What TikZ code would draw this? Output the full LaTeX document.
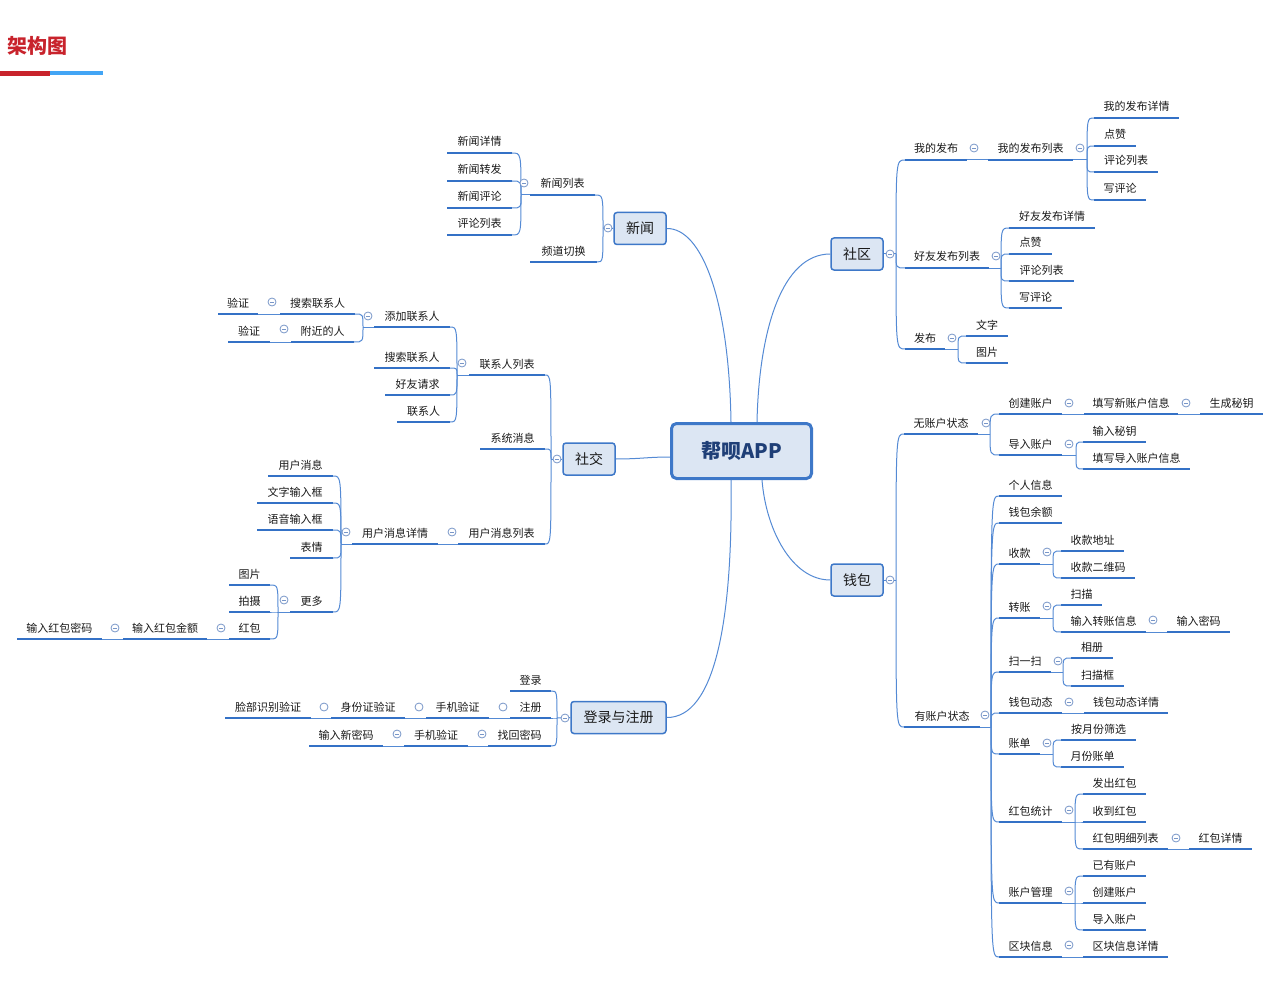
\documentclass[tikz,border=0pt]{standalone}
\usepackage{fontspec}
\setmainfont{Noto Sans CJK SC}
\usetikzlibrary{calc}

\definecolor{ublue}{RGB}{52,113,198}
\definecolor{cblue}{RGB}{84,138,212}
\definecolor{bblue}{RGB}{62,120,200}
\definecolor{bfill}{RGB}{220,230,243}
\definecolor{fcol}{RGB}{120,150,200}
\definecolor{txt}{RGB}{25,25,25}
\definecolor{rtxt}{RGB}{31,63,119}
\definecolor{titlered}{RGB}{200,35,44}
\definecolor{titleblue}{RGB}{66,165,245}

\tikzset{
  tlabel/.style={anchor=base, inner sep=0pt, text=txt, font=\fontsize{11}{13}\selectfont},
  uline/.style={draw=ublue, line width=2.5pt},
  conn/.style={draw=cblue, line width=1pt},
  mainbox/.style={draw=bblue, fill=bfill, line width=1.5pt, rounded corners=3pt,
    minimum height=32pt, inner sep=0pt, font=\fontsize{14}{16}\selectfont, text=txt},
  rootbox/.style={draw=bblue, fill=bfill, line width=3pt, rounded corners=5pt,
    minimum width=140pt, minimum height=55pt, inner sep=0pt,
    font=\bfseries\fontsize{20}{22}\selectfont, text=rtxt},
  fold/.style={circle, draw=fcol, fill=white, line width=0.8pt, minimum size=8pt, inner sep=0pt,
    path picture={\draw[fcol, line width=0.8pt]
      ([xshift=-2.2pt]path picture bounding box.center) -- ([xshift=2.2pt]path picture bounding box.center);}},
  foldo/.style={circle, draw=fcol, fill=white, line width=0.8pt, minimum size=8pt, inner sep=0pt},
}

% topic: name, left x, right x, underline y, label
\newcommand\tp[5]{%
  \coordinate (#1-l) at (#2,#4);
  \coordinate (#1-r) at (#3,#4);
  \node[tlabel] (#1) at ({(#2+#3)/2},{#4-7}) {#5};
  \draw[uline] (#1-l) -- (#1-r);}
% branch curve from a junction to a child end
\newcommand\br[2]{\draw[conn] (#1) .. controls (#1 |- #2) .. (#2);}

\begin{document}
\begin{tikzpicture}[x=1pt,y=-1pt]
\useasboundingbox (0,0) rectangle (1280,1003);

% heading
\node[anchor=west, inner sep=0pt, text=titlered, font=\bfseries\fontsize{20}{22}\selectfont] (title) at (7,46) {架构图};
\fill[titlered] (0,71) rectangle (50,76);
\fill[titleblue] (50,71.5) rectangle (103,75.5);

% central and main topics
\node[rootbox] (app) at (741.5,451) {帮呗APP};
\node[mainbox, minimum width=52pt] (news) at (640,228.5) {新闻};
\node[mainbox, minimum width=52pt] (social) at (589,459) {社交};
\node[mainbox, minimum width=95pt] (login) at (618.5,717.5) {登录与注册};
\node[mainbox, minimum width=52pt] (comm) at (857,254) {社区};
\node[mainbox, minimum width=52pt] (wallet) at (857,580) {钱包};

\draw[conn] (news.east) .. controls (702,228) and (729,300) .. ([xshift=-10.5pt]app.north);
\draw[conn] (comm.west) .. controls (782,254) and (759,330) .. ([xshift=15.5pt]app.north);
\draw[conn] (wallet.west) .. controls (792,580) and (766,530) .. ([xshift=20.5pt]app.south);
\draw[conn] (login.east) .. controls (715,718) and (733,620) .. ([xshift=-10.5pt]app.south);
\draw[conn] (social.east) .. controls (640,459) and (648,457) .. ([yshift=-6pt]app.west);

% ---- news ----
\coordinate (jnews) at (603,228);
\coordinate (jnl) at (521,195);
\tp{nl}{530}{595}{195}{新闻列表}
\tp{pd}{530}{597}{262}{频道切换}
\tp{nd}{447}{512}{153}{新闻详情}
\tp{nz}{447}{512}{181}{新闻转发}
\tp{np}{447}{512}{208}{新闻评论}
\tp{pl}{447}{512}{235}{评论列表}
\draw[conn] (news.west) -- (jnews);
\br{jnews}{nl-r} \br{jnews}{pd-r}
\draw[conn] (nl-l) -- (jnl);
\br{jnl}{nd-r} \br{jnl}{nz-r} \br{jnl}{np-r} \br{jnl}{pl-r}

% ---- social ----
\coordinate (jsoc) at (551,459);
\coordinate (jlxr) at (457,375);
\coordinate (jtj) at (363,327);
\coordinate (jyhx) at (341,544);
\coordinate (jgd) at (278,612);
\tp{lxr}{469}{545}{375}{联系人列表}
\tp{xt}{480}{545}{449}{系统消息}
\tp{yhl}{458}{545}{544}{用户消息列表}
\tp{tj}{374}{450}{327}{添加联系人}
\tp{ss}{374}{450}{368}{搜索联系人}
\tp{hy}{385}{450}{395}{好友请求}
\tp{lx}{397}{450}{422}{联系人}
\tp{ssb}{280}{355}{314}{搜索联系人}
\tp{fj}{291}{354}{342}{附近的人}
\tp{yza}{218}{258}{314}{验证}
\tp{yzb}{228}{270}{342}{验证}
\tp{yhx}{352}{438}{544}{用户消息详情}
\tp{yhm}{268}{333}{476}{用户消息}
\tp{wz}{257}{333}{503}{文字输入框}
\tp{yy}{257}{333}{530}{语音输入框}
\tp{bq}{290}{333}{558}{表情}
\tp{gd}{290}{333}{612}{更多}
\tp{tpa}{229}{270}{585}{图片}
\tp{ps}{229}{270}{612}{拍摄}
\tp{hb}{229}{270}{639}{红包}
\tp{hbje}{123}{207}{639}{输入红包金额}
\tp{hbmm}{17}{102}{639}{输入红包密码}
\draw[conn] (social.west) -- (jsoc);
\br{jsoc}{lxr-r} \br{jsoc}{xt-r} \br{jsoc}{yhl-r}
\draw[conn] (lxr-l) -- (jlxr);
\br{jlxr}{tj-r} \br{jlxr}{ss-r} \br{jlxr}{hy-r} \br{jlxr}{lx-r}
\draw[conn] (tj-l) -- (jtj);
\br{jtj}{ssb-r} \br{jtj}{fj-r}
\draw[conn] (ssb-l) -- (yza-r);
\draw[conn] (fj-l) -- (yzb-r);
\draw[conn] (yhl-l) -- (yhx-r);
\draw[conn] (yhx-l) -- (jyhx);
\br{jyhx}{yhm-r} \br{jyhx}{wz-r} \br{jyhx}{yy-r} \br{jyhx}{bq-r} \br{jyhx}{gd-r}
\draw[conn] (gd-l) -- (jgd);
\br{jgd}{tpa-r} \br{jgd}{ps-r} \br{jgd}{hb-r}
\draw[conn] (hb-l) -- (hbje-r);
\draw[conn] (hbje-l) -- (hbmm-r);

% ---- login ----
\coordinate (jlog) at (557,718);
\tp{dl}{510}{551}{691}{登录}
\tp{zc}{510}{551}{718}{注册}
\tp{zh}{488}{551}{746}{找回密码}
\tp{sja}{426}{489}{718}{手机验证}
\tp{sfz}{331}{405}{718}{身份证验证}
\tp{lb}{225}{311}{718}{脸部识别验证}
\tp{sjb}{404}{468}{746}{手机验证}
\tp{xmm}{309}{383}{746}{输入新密码}
\draw[conn] (login.west) -- (jlog);
\br{jlog}{dl-r} \br{jlog}{zc-r} \br{jlog}{zh-r}
\draw[conn] (zc-l) -- (sja-r);
\draw[conn] (sja-l) -- (sfz-r);
\draw[conn] (sfz-l) -- (lb-r);
\draw[conn] (zh-l) -- (sjb-r);
\draw[conn] (sjb-l) -- (xmm-r);

% ---- community ----
\coordinate (jcomm) at (896,254);
\coordinate (jwdfl) at (1087,160);
\coordinate (jhyfl) at (1001,268);
\coordinate (jfb) at (958,349);
\tp{wdfb}{905}{967}{160}{我的发布}
\tp{hyfl}{905}{989}{268}{好友发布列表}
\tp{fb}{905}{945}{349}{发布}
\tp{wdfl}{988}{1073}{160}{我的发布列表}
\tp{wdxq}{1094}{1179}{118}{我的发布详情}
\tp{dza}{1094}{1136}{146}{点赞}
\tp{pla}{1094}{1158}{172}{评论列表}
\tp{xpa}{1094}{1146}{200}{写评论}
\tp{hyxq}{1009}{1095}{228}{好友发布详情}
\tp{dzb}{1009}{1052}{254}{点赞}
\tp{plb}{1009}{1074}{281}{评论列表}
\tp{xpb}{1009}{1062}{308}{写评论}
\tp{wzi}{966}{1008}{336}{文字}
\tp{tpi}{966}{1008}{363}{图片}
\draw[conn] (comm.east) -- (jcomm);
\br{jcomm}{wdfb-l} \br{jcomm}{hyfl-l} \br{jcomm}{fb-l}
\draw[conn] (wdfb-r) -- (wdfl-l);
\draw[conn] (wdfl-r) -- (jwdfl);
\br{jwdfl}{wdxq-l} \br{jwdfl}{dza-l} \br{jwdfl}{pla-l} \br{jwdfl}{xpa-l}
\draw[conn] (hyfl-r) -- (jhyfl);
\br{jhyfl}{hyxq-l} \br{jhyfl}{dzb-l} \br{jhyfl}{plb-l} \br{jhyfl}{xpb-l}
\draw[conn] (fb-r) -- (jfb);
\br{jfb}{wzi-l} \br{jfb}{tpi-l}

% ---- wallet ----
\coordinate (jwal) at (896,580);
\coordinate (jwzh) at (990,434);
\coordinate (jdr) at (1076,455);
\coordinate (jyzh) at (991,727);
\coordinate (jsk) at (1053,564);
\coordinate (jzz) at (1053,618);
\coordinate (jsys) at (1063,672);
\coordinate (jzd) at (1053,754);
\coordinate (jhbtj) at (1075,822);
\coordinate (jzhgl) at (1075,903);
\tp{wzh}{904}{978}{434}{无账户状态}
\tp{yzh}{904}{980}{727}{有账户状态}
\tp{cj}{999}{1062}{414}{创建账户}
\tp{dr}{999}{1062}{455}{导入账户}
\tp{txx}{1084}{1178}{414}{填写新账户信息}
\tp{scmy}{1200}{1263}{414}{生成秘钥}
\tp{srmy}{1083}{1146}{442}{输入秘钥}
\tp{txdr}{1083}{1190}{469}{填写导入账户信息}
\tp{grxx}{999}{1062}{496}{个人信息}
\tp{qbye}{999}{1062}{523}{钱包余额}
\tp{sk}{999}{1040}{564}{收款}
\tp{zz}{999}{1040}{618}{转账}
\tp{sys}{999}{1051}{672}{扫一扫}
\tp{qbdt}{999}{1062}{713}{钱包动态}
\tp{zd}{999}{1040}{754}{账单}
\tp{hbtj}{999}{1062}{822}{红包统计}
\tp{zhgl}{999}{1062}{903}{账户管理}
\tp{qkxx}{999}{1062}{957}{区块信息}
\tp{skdz}{1061}{1124}{551}{收款地址}
\tp{skewm}{1061}{1135}{578}{收款二维码}
\tp{sm}{1061}{1102}{605}{扫描}
\tp{srzz}{1061}{1146}{632}{输入转账信息}
\tp{srmm}{1167}{1230}{632}{输入密码}
\tp{xc}{1071}{1113}{658}{相册}
\tp{smk}{1071}{1124}{686}{扫描框}
\tp{dtxq}{1084}{1168}{713}{钱包动态详情}
\tp{ayf}{1061}{1136}{740}{按月份筛选}
\tp{yfzd}{1061}{1124}{767}{月份账单}
\tp{fchb}{1083}{1146}{794}{发出红包}
\tp{sdhb}{1083}{1146}{822}{收到红包}
\tp{hbmx}{1083}{1168}{849}{红包明细列表}
\tp{hbxq}{1189}{1252}{849}{红包详情}
\tp{yyzh}{1083}{1146}{876}{已有账户}
\tp{cjzh}{1083}{1146}{903}{创建账户}
\tp{drzh}{1083}{1146}{930}{导入账户}
\tp{qkxq}{1083}{1168}{957}{区块信息详情}
\draw[conn] (wallet.east) -- (jwal);
\br{jwal}{wzh-l} \br{jwal}{yzh-l}
\draw[conn] (wzh-r) -- (jwzh);
\br{jwzh}{cj-l} \br{jwzh}{dr-l}
\draw[conn] (cj-r) -- (txx-l);
\draw[conn] (txx-r) -- (scmy-l);
\draw[conn] (dr-r) -- (jdr);
\br{jdr}{srmy-l} \br{jdr}{txdr-l}
\draw[conn] (yzh-r) -- (jyzh);
\br{jyzh}{grxx-l} \br{jyzh}{qbye-l} \br{jyzh}{sk-l} \br{jyzh}{zz-l} \br{jyzh}{sys-l}
\br{jyzh}{qbdt-l} \br{jyzh}{zd-l} \br{jyzh}{hbtj-l} \br{jyzh}{zhgl-l} \br{jyzh}{qkxx-l}
\draw[conn] (sk-r) -- (jsk);
\br{jsk}{skdz-l} \br{jsk}{skewm-l}
\draw[conn] (zz-r) -- (jzz);
\br{jzz}{sm-l} \br{jzz}{srzz-l}
\draw[conn] (srzz-r) -- (srmm-l);
\draw[conn] (sys-r) -- (jsys);
\br{jsys}{xc-l} \br{jsys}{smk-l}
\draw[conn] (qbdt-r) -- (dtxq-l);
\draw[conn] (zd-r) -- (jzd);
\br{jzd}{ayf-l} \br{jzd}{yfzd-l}
\draw[conn] (hbtj-r) -- (jhbtj);
\br{jhbtj}{fchb-l} \br{jhbtj}{sdhb-l} \br{jhbtj}{hbmx-l}
\draw[conn] (hbmx-r) -- (hbxq-l);
\draw[conn] (zhgl-r) -- (jzhgl);
\br{jzhgl}{yyzh-l} \br{jzhgl}{cjzh-l} \br{jzhgl}{drzh-l}
\draw[conn] (qkxx-r) -- (qkxq-l);

% ---- fold buttons ----
\node[fold] (fnews) at (608,228) {};
\node[fold] (fnl) at (524,183) {};
\node[fold] (fsoc) at (557,459) {};
\node[fold] (flxr) at (462,363) {};
\node[fold] (ftj) at (368,316) {};
\node[fold] (fssb) at (272,302) {};
\node[fold] (ffj) at (284,329) {};
\node[fold] (fyhl) at (452,532) {};
\node[fold] (fyhx) at (346,532) {};
\node[fold] (fgd) at (284,600) {};
\node[fold] (fhb) at (221,628) {};
\node[fold] (fhbje) at (115,628) {};
\node[fold] (flog) at (565,718) {};
\node[foldo] (fzc) at (503,707) {};
\node[foldo] (fsja) at (419,707) {};
\node[foldo] (fsfz) at (324,707) {};
\node[fold] (fzh) at (482,734) {};
\node[fold] (fsjb) at (397,734) {};
\node[fold] (fcomm) at (890,254) {};
\node[fold] (fwdfb) at (974,148) {};
\node[fold] (fwdfl) at (1080,148) {};
\node[fold] (fhyfl) at (996,256) {};
\node[fold] (ffb) at (952,338) {};
\node[fold] (fwal) at (890,580) {};
\node[fold] (fwzh) at (986,423) {};
\node[fold] (fcj) at (1069,403) {};
\node[fold] (ftxx) at (1186,403) {};
\node[fold] (fdr) at (1069,444) {};
\node[fold] (fyzh) at (985,715) {};
\node[fold] (fsk) at (1047,552) {};
\node[fold] (fzz) at (1047,606) {};
\node[fold] (fsrzz) at (1153,620) {};
\node[fold] (fsys) at (1058,661) {};
\node[fold] (fqbdt) at (1069,702) {};
\node[fold] (fzd) at (1047,743) {};
\node[fold] (fhbtj) at (1069,810) {};
\node[fold] (fhbmx) at (1176,838) {};
\node[fold] (fzhgl) at (1069,891) {};
\node[fold] (fqkxx) at (1069,945) {};
\end{tikzpicture}
\end{document}
